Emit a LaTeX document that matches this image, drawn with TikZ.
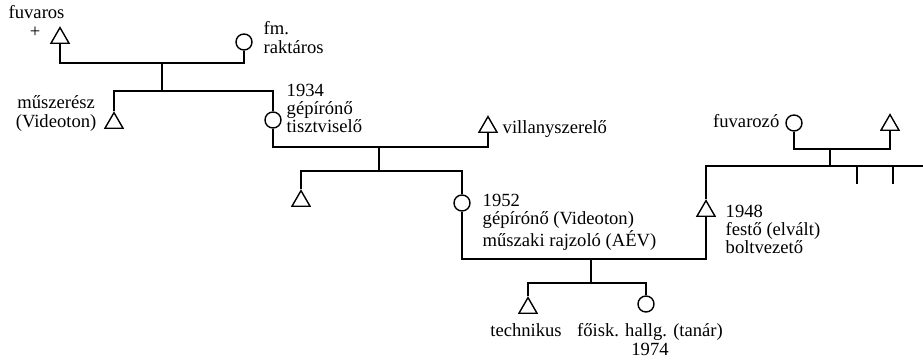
\documentclass[tikz,border=0pt]{standalone}
\usepackage{fontspec}
\setmainfont{Liberation Serif}
\usetikzlibrary{shapes.geometric}

\begin{document}
\begin{tikzpicture}[x=0.5pt, y=-0.5pt, line width=0.7pt,
    male/.style={draw, regular polygon, regular polygon sides=3, minimum size=10.4pt, inner sep=0pt},
    female/.style={draw, circle, minimum size=8pt, inner sep=0pt},
    lbl/.style={inner sep=0pt, font=\fontsize{9.3}{9.2}\selectfont}]
                    \useasboundingbox (0, 0) rectangle (923, 360);
                    \node[male] (fuv) at (60, 38) {};
                    \node[female] (rak) at (244, 42) {};
                    \node[male] (mus) at (114, 123) {};
                    \node[female] (gep) at (273, 120) {};
                    \node[male] (vil) at (488, 127) {};
                    \node[male] (fiu) at (301, 201) {};
                    \node[female] (raj) at (462, 203) {};
                    \node[male] (fes) at (706, 211) {};
                    \node[female] (fuz) at (794, 123) {};
                    \node[male] (apa) at (890, 125) {};
                    \node[male] (tec) at (528, 308) {};
                    \node[female] (foi) at (646, 304) {};
                    \coordinate (m1) at (162, 63);
                    \coordinate (s1) at (162, 91);
                    \coordinate (m2) at (379, 147);
                    \coordinate (s2) at (379, 171);
                    \coordinate (m3) at (591, 259);
                    \coordinate (s3) at (591, 283);
                    \coordinate (m4) at (830, 149);
                    \coordinate (s4) at (830, 166);
                    \coordinate (e4) at (923, 166);
                    \coordinate (k1) at (857, 184);
                    \coordinate (k2) at (893, 184);
                    % labels
                    \node[lbl, anchor=base west] (fuvL) at (8, 18) {fuvaros};
                    \node[lbl] (plus) at (35, 32) {+};
                    \node[lbl, anchor=north west, align=left] (rakL) at (263, 21) {fm.\\raktáros};
                    \node[lbl, anchor=north east, align=center] (musL) at (97, 95) {műszerész\\(Videoton)};
                    \node[lbl, anchor=north west, align=left] (gepL) at (286, 83) {1934\\gépírónő\\tisztviselő};
                    \node[lbl, anchor=base west] (vilL) at (502, 133) {villanyszerelő};
                    \node[lbl, anchor=north west, align=left] (rajL) at (482, 193) {1952\\gépírónő (Videoton)\\műszaki rajzoló (AÉV)};
                    \node[lbl, anchor=north west, align=left] (fesL) at (725, 204) {1948\\festő (elvált)\\boltvezető};
                    \node[lbl, anchor=base east] (fuzL) at (780, 127) {fuvarozó};
                    \node[lbl, anchor=base] (tecL) at (526, 336) {technikus};
                    \node[lbl, anchor=north, align=center] (foiL) at (650, 323) {főisk. hallg. (tanár)\\1974};
                    \draw
                    (fuv.south) |- (m1) -| (rak.south)
                    (m1) -- (s1)
                    (mus.north) |- (s1) -| (gep.north)
                    (gep.south) |- (m2) -| (vil.south)
                    (m2) -- (s2)
                    (fiu.north) |- (s2) -| (raj.north)
                    (raj.south) |- (m3) -| (fes.south)
                    (m3) -- (s3)
                    (tec.north) |- (s3) -| (foi.north)
                    (fes.north) |- (e4)
                    (fuz.south) |- (m4) -| (apa.south)
                    (m4) -- (s4)
                    (k1) -- (k1 |- s4)
                    (k2) -- (k2 |- s4);
                \end{tikzpicture}
\end{document}
